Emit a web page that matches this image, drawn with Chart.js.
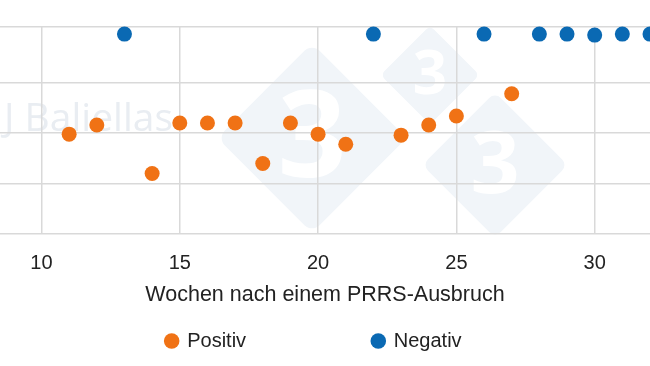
<!DOCTYPE html>
<html>
<head>
<meta charset="utf-8">
<script src="https://cdn.jsdelivr.net/npm/chart.js@4"></script>
<style>
  body { margin: 0; background: #ffffff; }
  #wrap { position: relative; width: 650px; height: 366px; }
</style>
</head>
<body>
<div id="wrap"><canvas id="scatterChart"></canvas></div>
<script>
// Weeks after a PRRS outbreak (x) and the measured value (y, axis not labelled in the source)
const weeksPositive = [11, 12, 14, 15, 16, 17, 18, 19, 20, 21, 23, 24, 25, 27];
const valuesPositive = [29.9, 30.8, 26.0, 31.0, 31.0, 31.0, 27.0, 31.0, 29.9, 28.9, 29.8, 30.8, 31.7, 33.9];

const weeksNegative = [13, 22, 26, 28, 29, 30, 31, 32];
const valuesNegative = [39.8, 39.8, 39.8, 39.8, 39.8, 39.7, 39.8, 39.8];

// Tick labels / grid positions
const xTickValues = [10, 15, 20, 25, 30];
const yGridValues = [20, 25, 30, 35, 40.5];

const seriesLabels = ['Positiv', 'Negativ'];
const xTitle = 'Wochen nach einem PRRS-Ausbruch';

const toPoints = (xs, ys) => xs.map((x, i) => ({ x: x, y: ys[i] }));

// Faint watermark behind the grid (logo diamonds + photographer name)
const watermark = {
    id: 'watermark',
    beforeDraw(chart) {
        const ctx = chart.ctx;
        const diamond = (cx, cy, side, digitSize) => {
            ctx.save();
            ctx.translate(cx, cy);
            ctx.rotate(Math.PI / 4);
            ctx.fillStyle = '#f1f5f9';
            ctx.beginPath();
            ctx.roundRect(-side / 2, -side / 2, side, side, side * 0.08);
            ctx.fill();
            ctx.restore();
            ctx.save();
            ctx.fillStyle = '#ffffff';
            ctx.font = 'bold ' + digitSize + 'px "Open Sans"';
            ctx.textAlign = 'center';
            ctx.textBaseline = 'middle';
            ctx.fillText('3', cx, cy + digitSize * 0.04);
            ctx.restore();
        };
        diamond(312, 138, 134, 120);
        diamond(430, 75, 70, 60);
        diamond(495, 165, 103, 86);

        ctx.save();
        ctx.fillStyle = '#e9edf2';
        ctx.font = '39px "Open Sans"';
        ctx.textBaseline = 'middle';
        ctx.fillText('J Baliellas', 4, 120);
        ctx.restore();
    }
};

const ctx = document.getElementById('scatterChart').getContext('2d');

const gridColor = '#d9d9d9';

new Chart(ctx, {
    type: 'scatter',
    data: {
        datasets: [
            {
                label: seriesLabels[0],
                data: toPoints(weeksPositive, valuesPositive),
                backgroundColor: '#f07215',
                borderColor: '#f07215',
                pointRadius: 7.5,
                pointHoverRadius: 7.5,
                borderWidth: 0,
                clip: false
            },
            {
                label: seriesLabels[1],
                data: toPoints(weeksNegative, valuesNegative),
                backgroundColor: '#0a69b3',
                borderColor: '#0a69b3',
                pointRadius: 7.5,
                pointHoverRadius: 7.5,
                borderWidth: 0,
                clip: false
            }
        ]
    },
    options: {
        responsive: true,
        maintainAspectRatio: false,
        animation: false,
        layout: { autoPadding: false, padding: { top: 27, left: 0, right: 0, bottom: 5 } },
        plugins: {
            tooltip: { enabled: false },
            legend: {
                position: 'bottom',
                labels: {
                    color: '#222222',
                    font: { family: '"Liberation Sans", Arial, sans-serif', size: 20 },
                    usePointStyle: true,
                    pointStyle: 'circle',
                    boxWidth: 11,
                    boxHeight: 11,
                    padding: 10,
                    // wide gap between the two entries, as in the source
                    generateLabels: function (chart) {
                        const items = Chart.defaults.plugins.legend.labels.generateLabels(chart);
                        items.forEach((item, i) => {
                            item.text = item.text + ' '.repeat(i === 0 ? 21 : 4);
                            item.lineWidth = 0;
                        });
                        return items;
                    }
                }
            }
        },
        scales: {
            x: {
                type: 'linear',
                min: 8.5,
                max: 32,
                afterBuildTicks: axis => { axis.ticks = xTickValues.map(v => ({ value: v })); },
                grid: { color: gridColor, lineWidth: 1.5, drawTicks: true, tickLength: 10, tickColor: 'rgba(0,0,0,0)' },
                border: { display: false },
                ticks: {
                    color: '#222222',
                    padding: 7,
                    maxRotation: 0,
                    font: { family: '"Liberation Sans", Arial, sans-serif', size: 20 }
                },
                title: {
                    display: true,
                    text: xTitle,
                    color: '#222222',
                    font: { family: '"Liberation Sans", Arial, sans-serif', size: 21.5 },
                    padding: { top: 0, bottom: 13 }
                }
            },
            y: {
                type: 'linear',
                min: 20,
                max: 40.5,
                afterBuildTicks: axis => { axis.ticks = yGridValues.map(v => ({ value: v })); },
                grid: { color: gridColor, lineWidth: 1.5, drawTicks: false },
                border: { display: false },
                ticks: { display: false }
            }
        }
    },
    plugins: [watermark]
});
</script>
</body>
</html>
